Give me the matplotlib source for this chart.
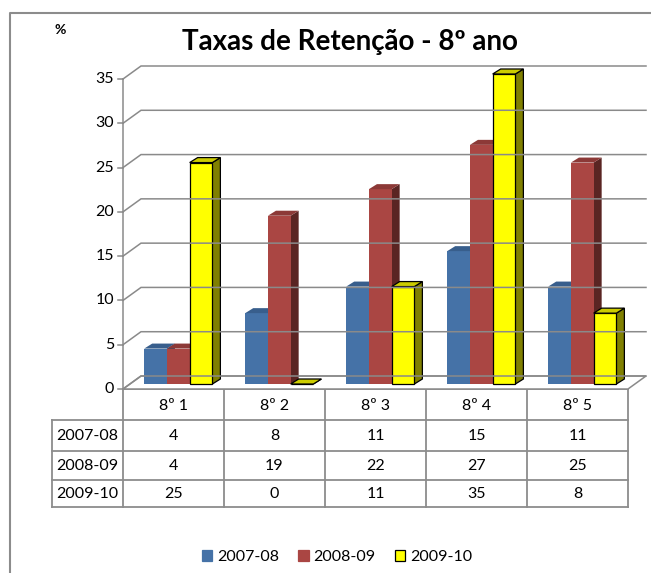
import matplotlib
matplotlib.use("Agg")
import matplotlib.pyplot as plt
from matplotlib.patches import Polygon, Patch

plt.rcParams["font.family"] = ["Lato", "DejaVu Sans"]

# dados do gráfico
turmas = ["8º 1", "8º 2", "8º 3", "8º 4", "8º 5"]
anos = ["2007-08", "2008-09", "2009-10"]
taxa_0708 = [4, 8, 11, 15, 11]
taxa_0809 = [4, 19, 22, 27, 25]
taxa_0910 = [25, 0, 11, 35, 8]
series = [taxa_0708, taxa_0809, taxa_0910]
y_ticks = [0, 5, 10, 15, 20, 25, 30, 35]

# cores (frente, topo, lado)
cores = [("#4572A7", "#385E8C", "#2C4A6E"),
         ("#AA4643", "#8C3937", "#5A2523"),
         ("#FFFF00", "#CCCC00", "#808000")]
bordas = [None, None, "black"]

W, H = 651, 573
X0, Y0 = 123, 389          # canto frontal do eixo (px)
CAT_PX = 101               # largura de cada categoria (px)
UNIT_PX = 310 / 35         # px por unidade de valor
n = len(turmas)
fs = 11.5

fig = plt.figure(figsize=(W / 100, H / 100), dpi=100)

# camada em pixels para moldura, tabela e textos
ov = fig.add_axes([0, 0, 1, 1])
ov.set_xlim(0, W)
ov.set_ylim(H, 0)
ov.axis("off")

ax = fig.add_axes([X0 / W, (H - Y0) / H, n * CAT_PX / W, 35 * UNIT_PX / H])
ax.set_xlim(0, n)
ax.set_ylim(0, 35)
ax.axis("off")

grid_c = "#8A8A8A"
wdx, wdy = 18 / CAT_PX, 13 / UNIT_PX      # profundidade da parede
bdx, bdy = 8 / CAT_PX, 5 / UNIT_PX        # profundidade das barras
base = 5 / UNIT_PX
bw = 0.225
g0 = 0.21

# chão
ax.add_patch(Polygon([(0, 0), (n, 0), (n + wdx, wdy), (wdx, wdy)], closed=True,
                     facecolor="white", edgecolor=grid_c, lw=1.1, clip_on=False))

# grelha da parede de fundo + marcas do eixo
for v in y_ticks:
    ax.plot([0, wdx, n + wdx], [v, v + wdy, v + wdy], color=grid_c, lw=1.1,
            clip_on=False, solid_joinstyle="miter")
    ax.plot([-5 / CAT_PX, 0], [v, v], color=grid_c, lw=1.1, clip_on=False)
    ax.text(-9 / CAT_PX, v, str(v), ha="right", va="center", fontsize=fs)
ax.plot([0, 0], [0, 35], color=grid_c, lw=1.1, clip_on=False)

# barras 3D
for i in range(n):
    for j, vals in enumerate(series):
        h = vals[i]
        x = i + g0 + j * bw
        fc, tc, sc = cores[j]
        ec = bordas[j]
        lw = 0.9 if ec else 0
        side = [(x + bw, base), (x + bw + bdx, base + bdy),
                (x + bw + bdx, base + h + bdy), (x + bw, base + h)]
        front = [(x, base), (x + bw, base), (x + bw, base + h), (x, base + h)]
        top = [(x, base + h), (x + bw, base + h),
               (x + bw + bdx, base + h + bdy), (x + bdx, base + h + bdy)]
        for pts, c in ((side, sc), (front, fc), (top, tc)):
            ax.add_patch(Polygon(pts, closed=True, facecolor=c,
                                 edgecolor=ec if ec else c, lw=lw,
                                 joinstyle="miter", clip_on=False))

# tabela de dados
tab_c = "#8C8C8C"
left = 52
rows = [389, 420, 451, 480, 507]
cols = [X0 + k * CAT_PX for k in range(n + 1)]
ov.plot([cols[0], cols[-1]], [rows[0], rows[0]], color=tab_c, lw=1.3)
for r in rows[1:]:
    ov.plot([left, cols[-1]], [r, r], color=tab_c, lw=1.3)
ov.plot([left, left], [rows[1], rows[-1]], color=tab_c, lw=1.3)
for c in cols:
    ov.plot([c, c], [rows[0], rows[-1]], color=tab_c, lw=1.3)
for k, t in enumerate(turmas):
    ov.text((cols[k] + cols[k + 1]) / 2, (rows[0] + rows[1]) / 2 + 1, t,
            ha="center", va="center", fontsize=fs)
for j, (ano, vals) in enumerate(zip(anos, series)):
    yc = (rows[j + 1] + rows[j + 2]) / 2 + 1
    ov.text((left + cols[0]) / 2, yc, ano, ha="center", va="center", fontsize=fs)
    for k, v in enumerate(vals):
        ov.text((cols[k] + cols[k + 1]) / 2, yc, str(v), ha="center",
                va="center", fontsize=fs)

# moldura
ov.plot([10, 10, W], [H, 13, 13], color="#8C8C8C", lw=1.5)

# títulos
ov.text(350, 42, "Taxas de Retenção - 8º ano", ha="center", va="center",
        fontsize=20, fontweight="bold")
ov.text(60, 30, "%", ha="center", va="center", fontsize=10, fontweight="bold")

# legenda
handles = [Patch(facecolor=cores[j][0], edgecolor=bordas[j] if bordas[j] else cores[j][0],
                 lw=0.9) for j in range(3)]
fig.legend(handles, anos, loc="center", bbox_to_anchor=(337 / W, (H - 557) / H),
           ncol=3, frameon=False, fontsize=fs, handlelength=0.65, handleheight=0.65,
           handletextpad=0.3, columnspacing=1.2)

fig.savefig("out.png", dpi=100)
